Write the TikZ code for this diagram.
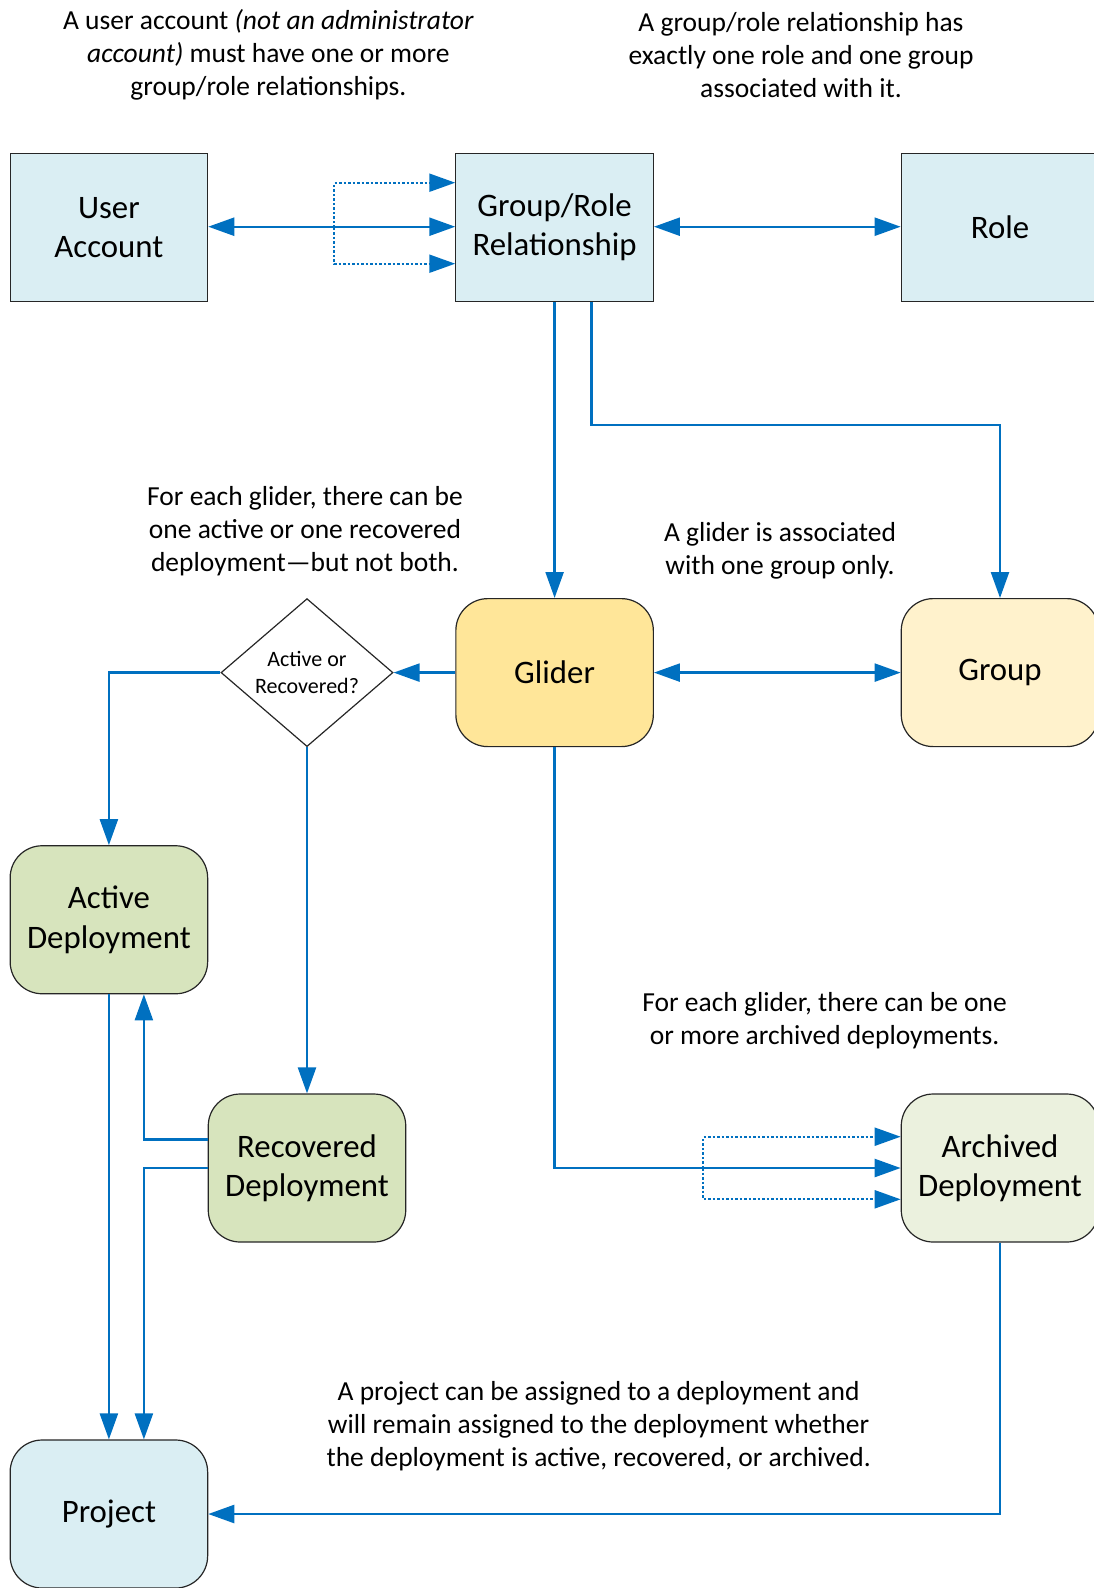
\documentclass[tikz,border=0pt]{standalone}
\usepackage{fontspec}
\setmainfont{Carlito}
\usetikzlibrary{arrows.meta,shapes.geometric}
\definecolor{lblue}{HTML}{DAEEF3}
\definecolor{gold}{HTML}{FFE699}
\definecolor{lgold}{HTML}{FFF2CC}
\definecolor{lgreen}{HTML}{D7E4BD}
\definecolor{llgreen}{HTML}{EBF1DE}
\definecolor{conblue}{HTML}{0070C0}
\tikzset{
  >={Triangle[length=26pt,width=18pt]},
  box/.style={draw=black!85, line width=1.2pt, minimum width=197.5pt, minimum height=148pt, inner sep=0pt, align=center, font=\fontsize{32.8}{39.5}\selectfont},
  rbox/.style={box, rounded corners=32pt},
  conn/.style={draw=conblue, line width=2.4pt},
  dotconn/.style={draw=conblue, line width=2.2pt, dash pattern=on 2.5pt off 2pt},
  note/.style={align=center, inner sep=0pt, font=\fontsize{27.5}{33}\selectfont},
}
\begin{document}
\begin{tikzpicture}[x=1pt,y=-1pt]
\useasboundingbox (0,0) rectangle (1094,1588);
% nodes
\node[box, fill=lblue] (ua) at (108.9,227.5) {User\\Account};
\node[box, fill=lblue] (gr) at (554.6,227.5) {Group/Role\\Relationship};
\node[box, fill=lblue] (role) at (1000,227.5) {Role};
\node[rbox, fill=gold] (glider) at (554.6,672.6) {Glider};
\node[rbox, fill=lgold] (group) at (1000,672.6) {Group};
\node[diamond, draw=black!85, line width=1.2pt, minimum width=172pt, minimum height=148pt, aspect=1.16, inner sep=0pt, align=center, font=\fontsize{22}{26.3}\selectfont] (dia) at (307,672.6) {Active or\\Recovered?};
\node[rbox, fill=lgreen] (active) at (108.9,919.75) {Active\\Deployment};
\node[rbox, fill=lgreen] (rec) at (307,1168) {Recovered\\Deployment};
\node[rbox, fill=llgreen] (arch) at (1000,1168) {Archived\\Deployment};
\node[rbox, fill=lblue] (proj) at (108.9,1514) {Project};
% notes
\node[note] (n1) at (268.4,55) {A user account \textit{(not an administrator}\\\textit{account)} must have one or more\\group/role relationships.};
\node[note] (n2) at (801,55) {A group/role relationship has\\exactly one role and one group\\associated with it.};
\node[note] (n3) at (305,531) {For each glider, there can be\\one active or one recovered\\deployment—but not both.};
\node[note] (n4) at (780,550.5) {A glider is associated\\with one group only.};
\node[note] (n5) at (824.6,1021) {For each glider, there can be one\\or more archived deployments.};
\node[note] (n6) at (598.6,1426) {A project can be assigned to a deployment and\\will remain assigned to the deployment whether\\the deployment is active, recovered, or archived.};
% connectors
\coordinate (d1) at (334.3,227.5);
\coordinate (d2) at (703.3,1168);
\draw[dotconn,->] (d1) |- ([yshift=44.8pt]gr.west);
\draw[dotconn,->] (d1) |- ([yshift=-36.2pt]gr.west);
\draw[dotconn,->] (d2) |- ([yshift=31.3pt]arch.west);
\draw[dotconn,->] (d2) |- ([yshift=-31.3pt]arch.west);
\draw[conn,<->] ([yshift=0.8pt]ua.east) -- ([yshift=0.8pt]gr.west);
\draw[conn,<->] ([yshift=0.8pt]gr.east) -- ([yshift=0.8pt]role.west);
\draw[conn,->] (gr.south) -- (glider.north);
\draw[conn,->] ([xshift=37pt]gr.south) -- ++(0,122.8) -| (group.north);
\draw[conn,<->] (glider.east) -- (group.west);
\draw[conn,->] (glider.west) -- (dia.east);
\draw[conn,->] (dia.west) -| (active.north);
\draw[conn,->] (dia.south) -- (rec.north);
\draw[conn,->] (glider.south) |- (arch.west);
\draw[conn,->] (active.south) -- (proj.north);
\draw[conn,->] ([yshift=28.7pt]rec.west) -| ([xshift=35pt]active.south);
\draw[conn,->] (rec.west) -| ([xshift=35pt]proj.north);
\draw[conn,->] (arch.south) |- (proj.east);
\end{tikzpicture}
\end{document}
